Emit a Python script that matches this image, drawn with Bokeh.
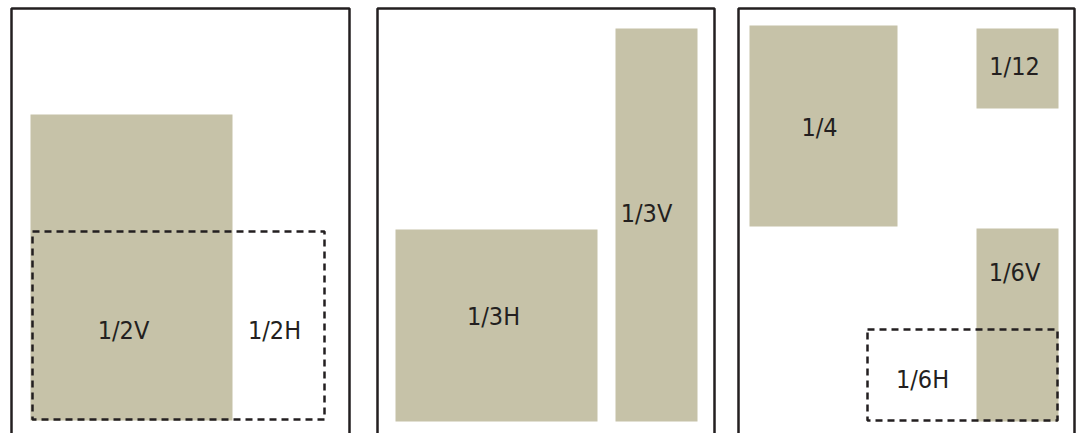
from bokeh.plotting import figure
from bokeh.models import Range1d, ColumnDataSource
from bokeh.core.properties import value
from bokeh.embed import file_html
from bokeh.resources import INLINE

# Page frames (left, right, top); pages continue below the visible area
page_left = [11, 377, 738]
page_right = [349, 714, 1074]
page_top = [8, 8, 8]
page_bottom = [460, 460, 460]

# Solid (shaded) ad units
solid_labels = ["1/2V", "1/3H", "1/3V", "1/4", "1/12", "1/6V"]
solid_left = [30, 395, 615, 749, 976, 976]
solid_right = [232, 597, 697, 897, 1058, 1058]
solid_top = [114, 229, 28, 25, 28, 228]
solid_bottom = [420, 421, 421, 226, 108, 421]

# Dashed (outlined) ad units
dashed_labels = ["1/2H", "1/6H"]
dashed_left = [32, 867]
dashed_right = [324, 1057]
dashed_top = [231, 329]
dashed_bottom = [419, 420]

# Label positions
label_text = ["1/2V", "1/2H", "1/3H", "1/3V", "1/4", "1/12", "1/6V", "1/6H"]
label_x = [123, 274, 493, 646, 819, 1014, 1014, 922]
label_y = [330, 330, 316, 213, 127, 66, 272, 379]

FILL = "#C6C2A8"
INK = "#231F20"

p = figure(width=1079, height=433, output_backend="svg", toolbar_location=None,
           x_range=Range1d(0, 1079), y_range=Range1d(433, 0),
           min_border=0, min_border_left=0, min_border_right=0,
           min_border_top=0, min_border_bottom=0)
p.axis.visible = False
p.grid.visible = False
p.outline_line_color = None
p.background_fill_color = "white"
p.border_fill_color = "white"

p.quad(left="l", right="r", top="t", bottom="b",
       source=ColumnDataSource(dict(l=solid_left, r=solid_right, t=solid_top, b=solid_bottom)),
       fill_color=FILL, line_color=None)

p.quad(left="l", right="r", top="t", bottom="b",
       source=ColumnDataSource(dict(l=dashed_left, r=dashed_right, t=dashed_top, b=dashed_bottom)),
       fill_color=None, line_color=INK, line_width=2.5, line_dash="7 5")

p.quad(left="l", right="r", top="t", bottom="b",
       source=ColumnDataSource(dict(l=page_left, r=page_right, t=page_top, b=page_bottom)),
       fill_color=None, line_color=INK, line_width=2.5)

p.text(x="x", y="y", text="t",
       source=ColumnDataSource(dict(x=label_x, y=label_y, t=label_text)),
       text_font=value("DejaVu Sans Condensed"), text_font_size="25px",
       text_color=INK, text_align="center", text_baseline="middle")

open("out.html", "w").write(file_html(p, INLINE))
